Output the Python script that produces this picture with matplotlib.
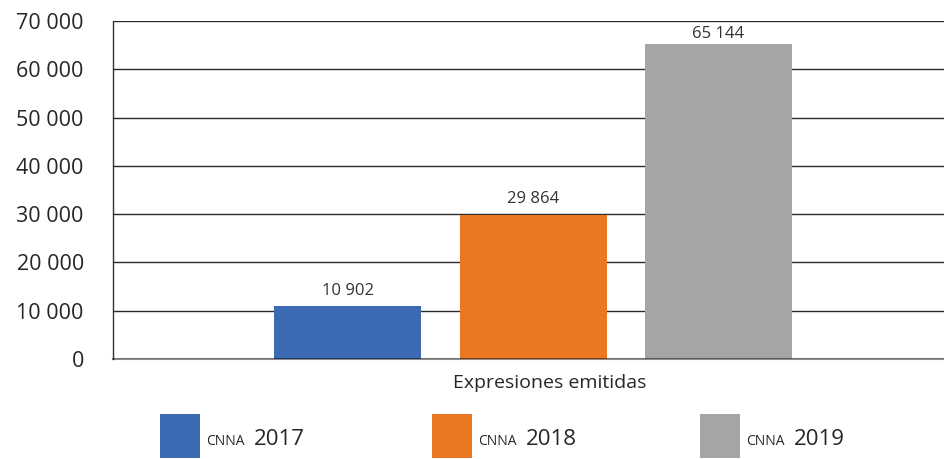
import matplotlib
matplotlib.use("Agg")
import matplotlib.pyplot as plt
from matplotlib.patches import Rectangle

plt.rcParams['font.family'] = ['Open Sans', 'DejaVu Sans']

# ---- data ----
category = "Expresiones emitidas"
series_prefix = ["CNNA", "CNNA", "CNNA"]
series_years = ["2017", "2018", "2019"]
values = [10902, 29864, 65144]
colors = ["#3D6BB3", "#EA7823", "#A5A5A5"]
yticks = [0, 10000, 20000, 30000, 40000, 50000, 60000, 70000]

def fmt(v):
    return "{:,}".format(int(v)).replace(",", " ")

W, H = 944, 459
fig = plt.figure(figsize=(W / 100, H / 100), dpi=100)
left, right, top, bottom = 113, 944, 21, 359
ax = fig.add_axes([left / W, 1 - bottom / H, (right - left) / W, (bottom - top) / H])

centers_px = [347.5, 532.5, 718.5]
spacing = 185.5
xpos = list(range(len(values)))
bars = ax.bar(xpos, values, width=147 / spacing, color=colors, zorder=1)
ax.set_xlim((left - centers_px[0]) / spacing, (right - centers_px[0]) / spacing)
ax.set_ylim(0, 70000)

for b, v in zip(bars, values):
    off = 8.5 if v < 60000 else 4.3
    ax.annotate(fmt(v), (b.get_x() + b.get_width() / 2, v), xytext=(0, off),
                textcoords="offset points", ha="center", va="baseline",
                fontsize=12, color="#333333")

ax.set_yticks(yticks)
ax.set_yticklabels([fmt(t) for t in yticks], fontsize=15.5, color="#262626")
ax.tick_params(axis="y", length=0, pad=21)
ax.set_xticks([])
ax.yaxis.grid(True, color="#2a2a2a", linewidth=1.0, zorder=0)
ax.set_axisbelow(True)
for s in ["top", "right"]:
    ax.spines[s].set_visible(False)
ax.spines["left"].set_color("#333333")
ax.spines["left"].set_linewidth(1.0)
ax.spines["bottom"].set_color((0, 0, 0, 0.45))
ax.spines["bottom"].set_linewidth(1.5)
ax.spines["bottom"].set_zorder(3)

ax.text((550 - left) / (right - left), -24 / (bottom - top), category,
        transform=ax.transAxes, ha="center", va="center", fontsize=14,
        color="#262626")

# legend (manual, with small-caps style prefix)
leg_x = [160, 432, 700]
for x0, c, pre, yr in zip(leg_x, colors, series_prefix, series_years):
    fig.patches.append(Rectangle((x0 / W, 1 - 458 / H), 40 / W, 44 / H,
                                 transform=fig.transFigure, facecolor=c,
                                 edgecolor="none"))
    fig.text((x0 + 46) / W, 1 - 445 / H, pre, fontsize=10, color="#262626",
             ha="left", va="baseline")
    fig.text((x0 + 94) / W, 1 - 445 / H, yr, fontsize=16, color="#262626",
             ha="left", va="baseline")

fig.savefig("out.png", dpi=100)
